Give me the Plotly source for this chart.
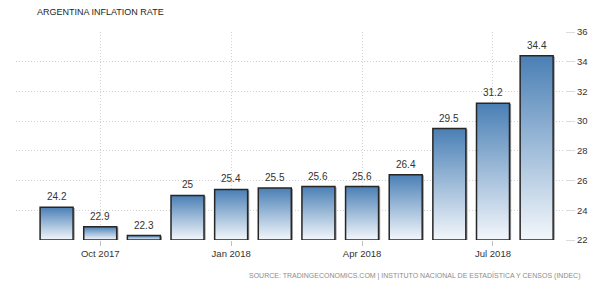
import plotly.graph_objects as go

months = ["Sep 2017", "Oct 2017", "Nov 2017", "Dec 2017", "Jan 2018", "Feb 2018",
          "Mar 2018", "Apr 2018", "May 2018", "Jun 2018", "Jul 2018", "Aug 2018"]
values = [24.2, 22.9, 22.3, 25.0, 25.4, 25.5, 25.6, 25.6, 26.4, 29.5, 31.2, 34.4]
value_labels = ["24.2", "22.9", "22.3", "25", "25.4", "25.5", "25.6", "25.6", "26.4", "29.5", "31.2", "34.4"]
tick_months = ["Oct 2017", "Jan 2018", "Apr 2018", "Jul 2018"]
y_ticks = [22, 24, 26, 28, 30, 32, 34, 36]
y_base = 22

FONT = "Liberation Sans, Arial, sans-serif"
half = 0.378

fig = go.Figure()
xs = list(range(len(months)))
for i, v in zip(xs, values):
    # soft shadow on the right edge
    fig.add_trace(go.Scatter(
        x=[i + half + 0.02, i + half + 0.02], y=[y_base, v - 0.05],
        mode="lines", line=dict(color="#9a9a9a", width=1.5),
        hoverinfo="skip", showlegend=False,
    ))
    fig.add_trace(go.Scatter(
        x=[i - half, i + half, i + half, i - half, i - half],
        y=[y_base, y_base, v, v, y_base],
        mode="lines",
        fill="toself",
        fillgradient=dict(type="vertical",
                          colorscale=[[0, "#f3f7fb"], [0.5, "#9fbcd9"], [1, "#4a7fb5"]],
                          start=y_base, stop=v),
        line=dict(color="#262626", width=1.5),
        hoverinfo="skip",
        showlegend=False,
    ))

annotations = [
    dict(x=i, y=v, text=t, xref="x", yref="y", showarrow=False,
         xanchor="center", yanchor="bottom", yshift=3,
         font=dict(family=FONT, size=10, color="#333333"))
    for i, v, t in zip(xs, values, value_labels)
]
annotations += [
    dict(text="ARGENTINA INFLATION RATE", xref="paper", yref="paper",
         x=(35 - 16) / 549, y=1 + (32 - 12) / 208, xanchor="left", yanchor="middle",
         showarrow=False, font=dict(family=FONT, size=9, color="#1e1e1e")),
    dict(text="SOURCE: TRADINGECONOMICS.COM | INSTITUTO NACIONAL DE ESTADÍSTICA Y CENSOS (INDEC)",
         xref="paper", yref="paper",
         x=(583 - 16) / 549, y=-(275 - 240) / 208, xanchor="right", yanchor="middle",
         showarrow=False, font=dict(family=FONT, size=7, color="#8c8c8c")),
]

fig.update_layout(
    width=598, height=287, autosize=False,
    margin=dict(l=16, r=33, t=32, b=47),
    paper_bgcolor="white", plot_bgcolor="white",
    font=dict(family=FONT, size=9, color="#333333"),
    xaxis=dict(
        range=[-0.93, 11.65],
        tickmode="array",
        tickvals=[months.index(m) for m in tick_months],
        ticktext=tick_months,
        showgrid=True, gridcolor="#d0d0d0", griddash="1px,2px", gridwidth=1,
        ticks="outside", ticklen=5, tickcolor="#c0c0c0",
        zeroline=False, showline=False,
        tickfont=dict(family=FONT, size=9.5, color="#333333"),
        fixedrange=True,
    ),
    yaxis=dict(
        range=[22, 36], side="right",
        tickmode="array", tickvals=y_ticks,
        showgrid=True, gridcolor="#d0d0d0", griddash="1px,2px", gridwidth=1,
        ticks="outside", ticklen=9, tickcolor="#dcdcdc",
        zeroline=False, showline=False,
        tickfont=dict(family=FONT, size=9.5, color="#333333"),
        fixedrange=True,
    ),
    annotations=annotations,
)

fig.write_html("out.html")
